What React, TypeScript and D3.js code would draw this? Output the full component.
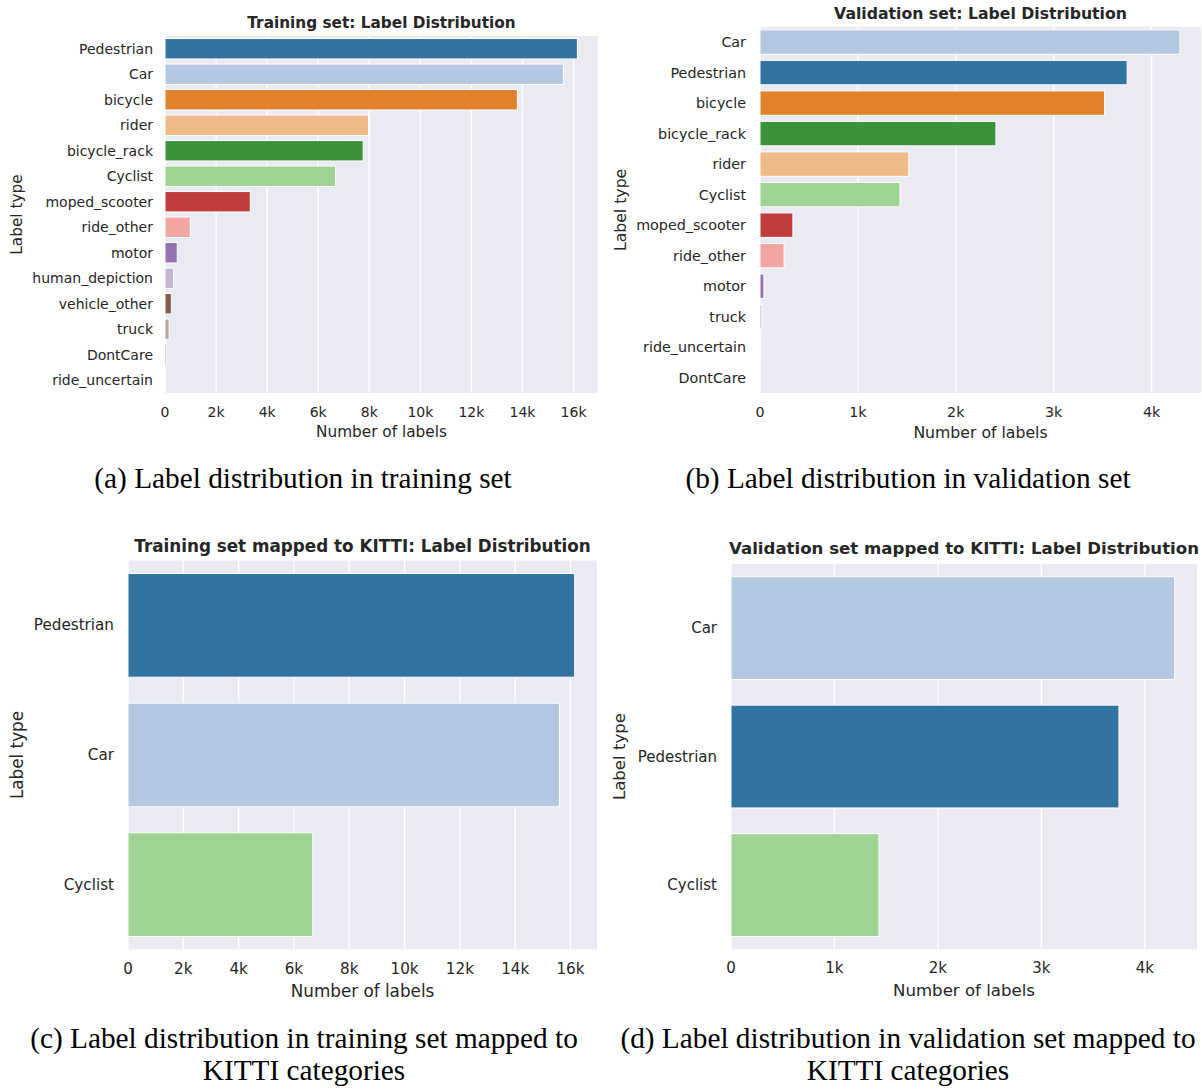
import React from "react";
import * as d3 from "d3";

const trainCategories = ["Pedestrian", "Car", "bicycle", "rider", "bicycle_rack", "Cyclist", "moped_scooter", "ride_other", "motor", "human_depiction", "vehicle_other", "truck", "DontCare", "ride_uncertain"];
const trainValues = [16150, 15600, 13800, 7970, 7760, 6680, 3340, 990, 480, 340, 250, 160, 50, 15];

const valCategories = ["Car", "Pedestrian", "bicycle", "bicycle_rack", "rider", "Cyclist", "moped_scooter", "ride_other", "motor", "truck", "ride_uncertain", "DontCare"];
const valValues = [4290, 3750, 3520, 2410, 1520, 1430, 336, 246, 40, 18, 2, 1];

const kittiTrainCategories = ["Pedestrian", "Car", "Cyclist"];
const kittiTrainValues = [16150, 15600, 6680];

const kittiValCategories = ["Car", "Pedestrian", "Cyclist"];
const kittiValValues = [4290, 3750, 1430];

const trainTicks = [0, 2000, 4000, 6000, 8000, 10000, 12000, 14000, 16000];
const valTicks = [0, 1000, 2000, 3000, 4000];

const tab20 = ["#1f77b4", "#aec7e8", "#ff7f0e", "#ffbb78", "#2ca02c", "#98df8a", "#d62728", "#ff9896", "#9467bd", "#c5b0d5", "#8c564b", "#c49c94", "#e377c2", "#f7b6d2"];

function desat(c: string) {
  const h = d3.hsl(c);
  h.s *= 0.75;
  return h.formatHex();
}
const colorOf = d3.scaleOrdinal<string, string>().domain(trainCategories).range(tab20.map(desat));

const TEXT = "#262626";
const BG = "#eaeaf2";
const SANS = "'DejaVu Sans', sans-serif";
const SERIF = "'Liberation Serif', 'Times New Roman', serif";

type PanelProps = {
  left: number; right: number; top: number; bottom: number;
  cats: string[]; vals: number[]; ticks: number[];
  tickSize: number; labelSize: number; title: string;
  titleGap: number; ylabelX: number; ytickGap: number;
  xtickOff: number; xlabelOff: number;
};

function Panel(p: PanelProps) {
  const max = d3.max(p.vals) as number;
  const x = d3.scaleLinear().domain([0, max * 1.05]).range([p.left, p.right]);
  const y = d3.scaleBand().domain(p.cats).range([p.top, p.bottom]).paddingInner(0.2).paddingOuter(0.1);
  const fmt = (v: number) => (v === 0 ? "0" : `${v / 1000}k`);
  const cx = (p.left + p.right) / 2;
  const cy = (p.top + p.bottom) / 2;
  return (
    <g>
      <rect x={p.left} y={p.top} width={p.right - p.left} height={p.bottom - p.top} fill={BG} />
      {p.ticks.map((t) => (
        <line key={t} x1={x(t)} x2={x(t)} y1={p.top} y2={p.bottom} stroke="#fff" strokeWidth={1.3} />
      ))}
      {p.cats.map((c, i) => (
        <rect key={c} x={x(0)} y={y(c)} width={Math.max(0, x(p.vals[i]) - x(0))} height={y.bandwidth()}
          fill={colorOf(c)} stroke="#fff" strokeWidth={1} />
      ))}
      {p.cats.map((c) => (
        <text key={c} x={p.left - p.ytickGap} y={(y(c) as number) + y.bandwidth() / 2} textAnchor="end"
          dominantBaseline="central" fontFamily={SANS} fontSize={p.tickSize} fill={TEXT}>{c}</text>
      ))}
      {p.ticks.map((t) => (
        <text key={t} x={x(t)} y={p.bottom + p.xtickOff} textAnchor="middle" dominantBaseline="central"
          fontFamily={SANS} fontSize={p.tickSize} fill={TEXT}>{fmt(t)}</text>
      ))}
      <text x={cx} y={p.bottom + p.xlabelOff} textAnchor="middle" dominantBaseline="central"
        fontFamily={SANS} fontSize={p.labelSize} fill={TEXT}>Number of labels</text>
      <text x={p.ylabelX} y={cy} textAnchor="middle" dominantBaseline="central"
        transform={`rotate(-90 ${p.ylabelX} ${cy})`} fontFamily={SANS} fontSize={p.labelSize} fill={TEXT}>Label type</text>
      <text x={cx} y={p.top - p.titleGap} textAnchor="middle" dominantBaseline="central"
        fontFamily={SANS} fontWeight="bold" fontSize={p.labelSize} fill={TEXT}>{p.title}</text>
    </g>
  );
}

function Caption({ x, y, lines, size }: { x: number; y: number; lines: string[]; size: number }) {
  return (
    <g>
      {lines.map((l, i) => (
        <text key={i} x={x} y={y + i * 32} textAnchor="middle" fontFamily={SERIF} fontSize={size} fill="#000">{l}</text>
      ))}
    </g>
  );
}

export default function App() {
  return (
    <svg width={1202} height={1089} style={{ position: "absolute", left: 0, top: 0, background: "#fff" }}>
      <Panel left={165} right={598} top={36} bottom={393} cats={trainCategories} vals={trainValues} ticks={trainTicks}
        tickSize={14} labelSize={15.3} title="Training set: Label Distribution" titleGap={13.5} ylabelX={17}
        ytickGap={12} xtickOff={19} xlabelOff={39} />
      <Panel left={760} right={1201} top={26.8} bottom={393} cats={valCategories} vals={valValues} ticks={valTicks}
        tickSize={14.3} labelSize={15.7} title="Validation set: Label Distribution" titleGap={13.5} ylabelX={621}
        ytickGap={14} xtickOff={19} xlabelOff={39} />
      <Panel left={128} right={597} top={560.5} bottom={949.5} cats={kittiTrainCategories} vals={kittiTrainValues} ticks={trainTicks}
        tickSize={15.2} labelSize={16.8} title="Training set mapped to KITTI: Label Distribution" titleGap={14.5} ylabelX={17}
        ytickGap={14} xtickOff={19.5} xlabelOff={41} />
      <Panel left={731} right={1197} top={563.8} bottom={949.3} cats={kittiValCategories} vals={kittiValValues} ticks={valTicks}
        tickSize={15} labelSize={16.6} title="Validation set mapped to KITTI: Label Distribution" titleGap={15} ylabelX={620}
        ytickGap={14} xtickOff={19} xlabelOff={41} />
      <Caption x={303} y={488} size={29.3} lines={["(a) Label distribution in training set"]} />
      <Caption x={908} y={488} size={29.3} lines={["(b) Label distribution in validation set"]} />
      <Caption x={304} y={1048} size={29.3} lines={["(c) Label distribution in training set mapped to", "KITTI categories"]} />
      <Caption x={908} y={1048} size={29.3} lines={["(d) Label distribution in validation set mapped to", "KITTI categories"]} />
    </svg>
  );
}
